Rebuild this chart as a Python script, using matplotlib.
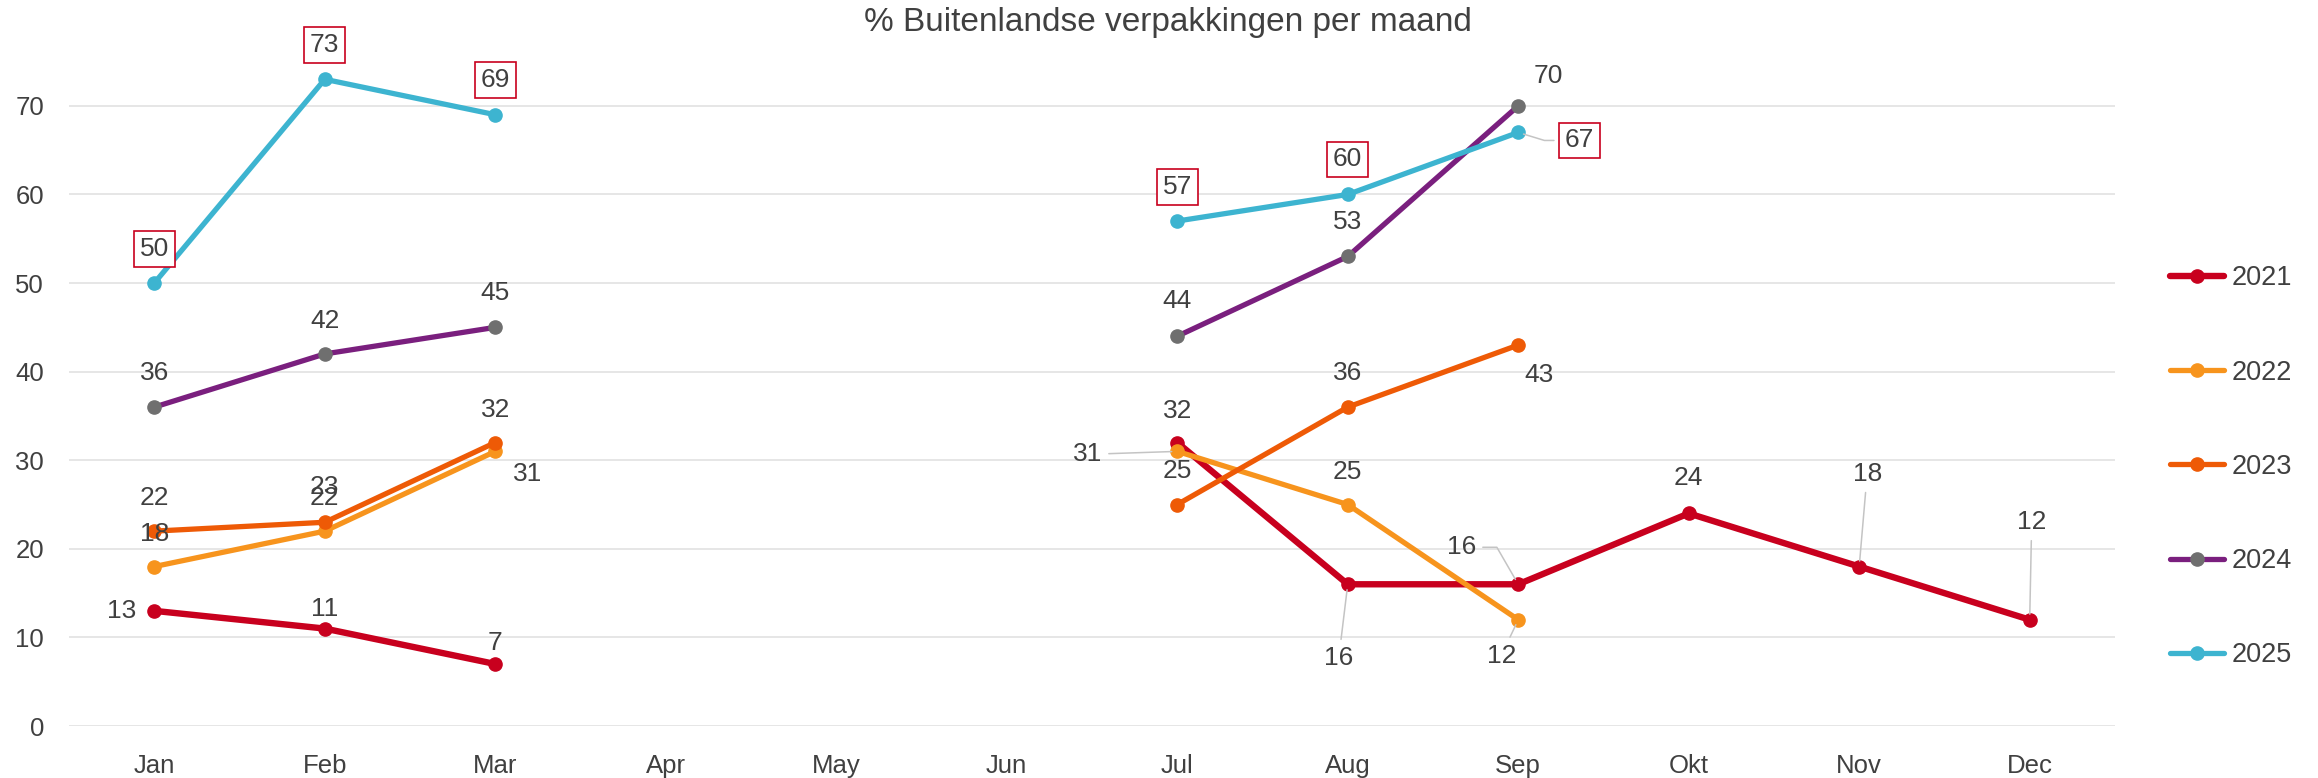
import numpy as np
import matplotlib
matplotlib.use('Agg')
import matplotlib.pyplot as plt

plt.rcParams['font.family'] = ['Liberation Sans', 'DejaVu Sans']

months = ['Jan', 'Feb', 'Mar', 'Apr', 'May', 'Jun', 'Jul', 'Aug', 'Sep', 'Okt', 'Nov', 'Dec']
years = ['2021', '2022', '2023', '2024', '2025']
nan = np.nan
y2021 = [13, 11, 7, nan, nan, nan, 32, 16, 16, 24, 18, 12]
y2022 = [18, 22, 31, nan, nan, nan, 31, 25, 12, nan, nan, nan]
y2023 = [22, 23, 32, nan, nan, nan, 25, 36, 43, nan, nan, nan]
y2024 = [36, 42, 45, nan, nan, nan, 44, 53, 70, nan, nan, nan]
y2025 = [50, 73, 69, nan, nan, nan, 57, 60, 67, nan, nan, nan]
series = [y2021, y2022, y2023, y2024, y2025]

line_colors = ['#C8001E', '#F7941D', '#EE5A06', '#7A1F7E', '#3DB4D0']
marker_colors = ['#C8001E', '#F7941D', '#EE5A06', '#6F6F6F', '#3DB4D0']
widths = [4.6, 3.8, 3.8, 3.8, 3.8]

# label offsets in pixels (dx, dy up), None = no point
offsets = [
    [(-33, 0), (0, 20), (0, 21), None, None, None, (0, 32), (-9, -74), (-57, 37), (0, 35), (8, 93), (2, 98)],
    [(0, 33), (0, 33), (32, -23), None, None, None, (-90, -3), (0, 33), (-17, -36), None, None, None],
    [(0, 33), (0, 35), (0, 33), None, None, None, (0, 34), (0, 34), (21, -30), None, None, None],
    [(0, 34), (0, 33), (0, 34), None, None, None, (0, 35), (0, 34), (30, 30), None, None, None],
    [(0, 34), (0, 34), (0, 35), None, None, None, (0, 34), (0, 35), (61, -8), None, None, None],
]
# grey leader lines from label to point
leaders = {(0, 7): 'arc3', (0, 8): 'angle,angleA=0,angleB=120,rad=0', (0, 10): 'arc3',
           (0, 11): 'arc3', (1, 6): 'arc3', (1, 8): 'arc3',
           (4, 8): 'angle,angleA=0,angleB=-17,rad=0'}

txt = '#404040'
fig = plt.figure(figsize=(23.18, 7.78), dpi=100)
ax = fig.add_axes([0.0298, 0.0668, 0.8826, 0.911])

x = np.arange(len(months))
handles = []
for i, vals in enumerate(series):
    h, = ax.plot(x, vals, color=line_colors[i], lw=widths[i], marker='o', ms=9.5,
                 mfc=marker_colors[i], mec=marker_colors[i], solid_capstyle='round',
                 label=years[i], zorder=3 + i)
    handles.append(h)
    for j, v in enumerate(vals):
        if np.isnan(v):
            continue
        dx, dy = offsets[i][j]
        kw = {}
        if i == 4:
            kw['bbox'] = dict(boxstyle='square,pad=0.22', fc='white', ec='#C8001E', lw=1.2)
        if (i, j) in leaders:
            kw['arrowprops'] = dict(arrowstyle='-', color='#C4C4C4', lw=1.1,
                                    shrinkA=3, shrinkB=4, connectionstyle=leaders[(i, j)])
        ax.annotate(f'{int(v)}', (j, v), xytext=(dx * 0.72, dy * 0.72),
                    textcoords='offset points', ha='center', va='center',
                    fontsize=19, color=txt, zorder=20, **kw)

ax.set_xlim(-0.5, 11.5)
ax.set_ylim(0, 80)
ax.set_yticks(range(0, 80, 10))
ax.set_xticks(x)
ax.set_xticklabels(months)
ax.tick_params(axis='both', length=0, labelsize=18.5, labelcolor=txt)
ax.tick_params(axis='y', pad=18)
ax.tick_params(axis='x', pad=20)
ax.grid(axis='y', color='#E4E4E4', lw=1.3)
ax.set_axisbelow(True)
for s in ax.spines.values():
    s.set_visible(False)

fig.suptitle('% Buitenlandse verpakkingen per maand', x=0.5037, y=0.971, va='center',
             fontsize=24, color=txt)

fig.legend(handles=handles, loc='center left', bbox_to_anchor=(0.936, 0.3998),
           frameon=False, fontsize=19.5, labelcolor=txt, handlelength=2.0,
           handletextpad=0.3, labelspacing=2.52, borderpad=0, borderaxespad=0)

fig.savefig('out.png', dpi=100)
